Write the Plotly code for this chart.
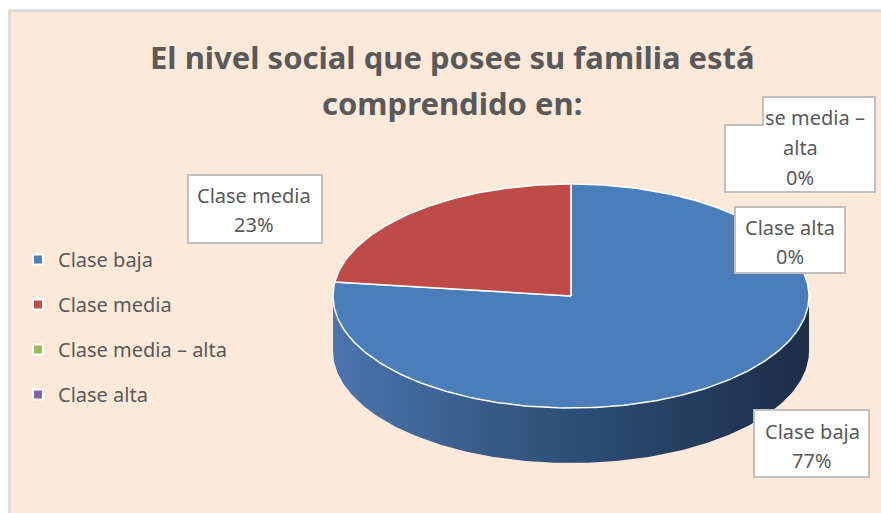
import numpy as np
import plotly.graph_objects as go

# data
categories = ["Clase baja", "Clase media", "Clase media – alta", "Clase alta"]
percent = [77, 23, 0, 0]
title_lines = ["El nivel social que posee su familia está", "comprendido en:"]

# styles
top_colors = ["#4A7EBB", "#BE4B48", "#9BBB59", "#8064A2"]
legend_colors = ["#4F81BD", "#C0504D", "#9BBB59", "#8064A2"]
side_scales = [
    [[0, "#4B75AD"], [0.45, "#30527C"], [1, "#1C2D47"]],
    [[0, "#B04541"], [1, "#6A2523"]],
    [[0, "#8DAA50"], [1, "#55672E"]],
    [[0, "#745A94"], [1, "#443559"]],
]
text_color = "#595959"
font = "Noto Sans"

W, H = 881, 513
# pie geometry (pixels)
cx, cy, rx, ry, depth = 571, 296, 238, 112, 55


def arc(a0, a1, yoff=0.0):
    n = max(2, int(abs(a1 - a0)) + 1)
    t = np.radians(np.linspace(a0, a1, n))
    return cx + rx * np.sin(t), cy + yoff - ry * np.cos(t)


fig = go.Figure()

ends = np.cumsum(percent) / sum(percent) * 360
starts = np.concatenate([[0], ends[:-1]])

# side walls (only the front half is visible)
for i, cat in enumerate(categories):
    lo, hi = max(starts[i], 90), min(ends[i], 270)
    if hi <= lo:
        continue
    x1, y1 = arc(lo, hi)
    x2, y2 = arc(hi, lo, depth)
    fig.add_trace(go.Scatter(
        x=np.concatenate([x1, x2]), y=np.concatenate([y1, y2]),
        mode="lines", fill="toself", line=dict(width=0, color=side_scales[i][-1][1]),
        fillgradient=dict(type="horizontal", colorscale=side_scales[i]),
        hoverinfo="skip", showlegend=False))

# top face wedges
for i, cat in enumerate(categories):
    if ends[i] - starts[i] <= 0:
        continue
    ax, ay = arc(starts[i], ends[i])
    fig.add_trace(go.Scatter(
        x=np.concatenate([[cx], ax, [cx]]), y=np.concatenate([[cy], ay, [cy]]),
        mode="lines", fill="toself", fillcolor=top_colors[i],
        line=dict(color="white", width=1.5),
        name=cat, text=f"{cat}: {percent[i]}%", hoverinfo="text", showlegend=False))

# legend entries
for i, cat in enumerate(categories):
    fig.add_trace(go.Scatter(
        x=[None], y=[None], mode="markers", name=cat, legendgroup=cat,
        marker=dict(symbol="square", size=10, color=legend_colors[i],
                    line=dict(color="white", width=2))))

# data labels: box (x0, y0, x1, y1), text centre x, first line y
label_boxes = {
    "Clase baja": (754, 410, 869, 477, 812, 431),
    "Clase media": (188, 175, 322, 243, 254, 195),
    "Clase alta": (735, 207, 845, 273, 790, 227),
}
shapes = [dict(type="rect", xref="x", yref="y", x0=9.5, y0=10.5, x1=W + 5, y1=H + 5,
               fillcolor="#FDE9D9", line=dict(color="#D9D9D9", width=2.5), layer="below")]
annotations = []
lab_font = dict(family=font, size=20, color=text_color)
for i, cat in enumerate(categories):
    if cat not in label_boxes:
        continue
    x0, y0, x1, y1, tx, ty = label_boxes[cat]
    shapes.append(dict(type="rect", xref="x", yref="y", x0=x0, y0=y0, x1=x1, y1=y1,
                       fillcolor="white", line=dict(color="#BFBFBF", width=2), layer="above"))
    for k, line in enumerate([cat, f"{percent[i]}%"]):
        annotations.append(dict(x=tx, y=ty + k * 29, xref="x", yref="y", text=line,
                                showarrow=False, font=lab_font))

# the clipped "Clase media – alta" label
shapes.append(dict(type="path", xref="x", yref="y",
                   path="M 763 97 L 875 97 L 875 192 L 725 192 L 725 125 L 763 125 Z",
                   fillcolor="white", line=dict(color="#BFBFBF", width=2), layer="above"))
for line, tx, ty in [("se media –", 815, 117), ("alta", 800, 147), (f"{percent[2]}%", 800, 177)]:
    annotations.append(dict(x=tx, y=ty, xref="x", yref="y", text=line, showarrow=False,
                            font=lab_font))

for k, line in enumerate(title_lines):
    annotations.append(dict(x=452, y=57 + k * 46, xref="x", yref="y", text=f"<b>{line}</b>",
                            showarrow=False, font=dict(family=font, size=31, color=text_color)))

fig.update_layout(
    width=W, height=H, margin=dict(l=0, r=0, t=0, b=0),
    paper_bgcolor="white", plot_bgcolor="rgba(0,0,0,0)",
    xaxis=dict(range=[0, W], visible=False, fixedrange=True),
    yaxis=dict(range=[H, 0], visible=False, fixedrange=True),
    shapes=shapes, annotations=annotations,
    legend=dict(x=18 / W, y=1 - 240 / H, xanchor="left", yanchor="top",
                font=dict(family=font, size=20, color=text_color),
                bgcolor="rgba(0,0,0,0)", traceorder="grouped", tracegroupgap=16),
)

# drop the default page margin so the figure fills the window exactly
fig.write_html("out.html", config={"displayModeBar": False},
               post_script="document.body.style.margin='0';")
